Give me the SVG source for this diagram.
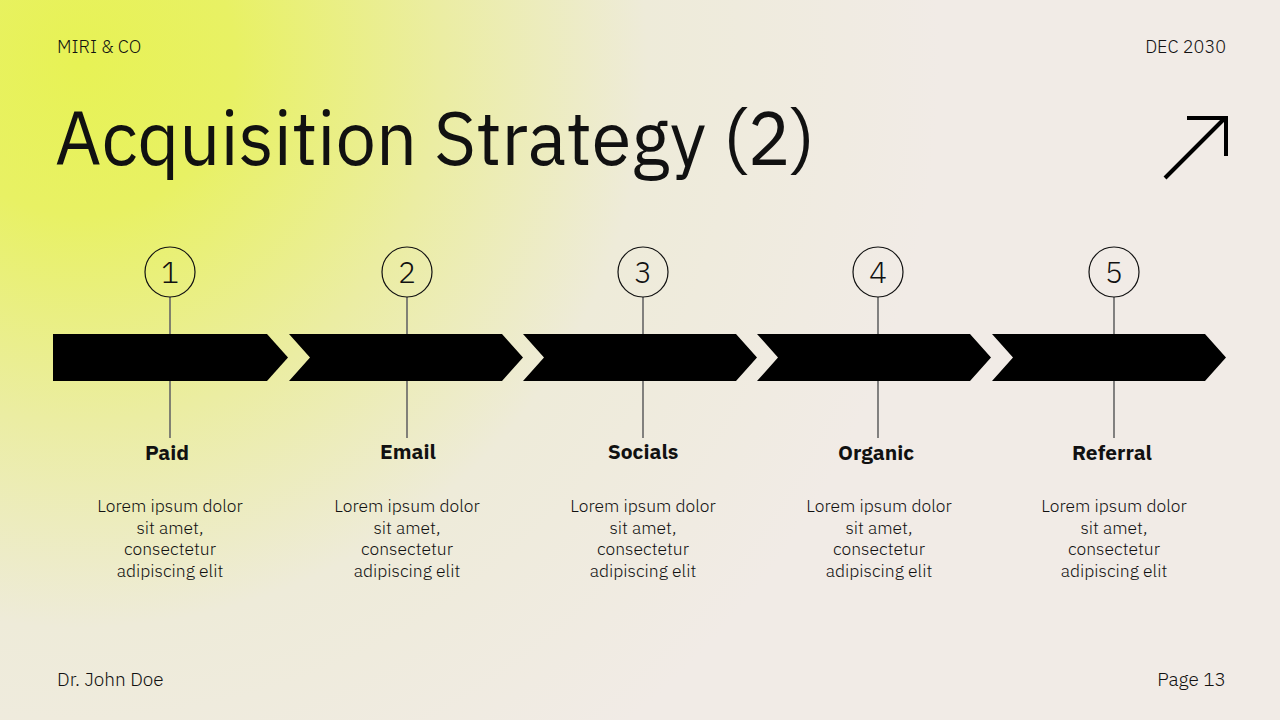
<svg xmlns="http://www.w3.org/2000/svg" width="1280" height="720" viewBox="0 0 1280 720">
<defs>
<radialGradient id="bg" cx="80" cy="60" r="860" gradientUnits="userSpaceOnUse">
<stop offset="0" stop-color="#e7f255"/>
<stop offset="0.18" stop-color="#e8f164"/>
<stop offset="0.42" stop-color="#ebeda2"/>
<stop offset="0.66" stop-color="#eeebd9"/>
<stop offset="1" stop-color="#f1ebe6"/>
</radialGradient>
<style>
.t{font-family:"IBM Plex Sans","Noto Sans",Roboto,sans-serif;fill:#111}
.hd{font-size:18px;font-weight:300}
.ft{font-size:19px;font-weight:300}
.num{font-size:30px;text-anchor:middle;font-weight:300}
.lbl{font-size:21px;font-weight:bold;text-anchor:middle}
.body{font-size:17.5px;text-anchor:middle;fill:#111;font-weight:300}
.circ{fill:none;stroke:#111;stroke-width:1.2}
.stem{stroke:#666;stroke-width:1.6}
.chev{fill:#000}
</style>
</defs>
<rect width="1280" height="720" fill="url(#bg)"/>
<text class="t hd" x="57" y="53">MIRI &amp; CO</text>
<text class="t hd" x="1226" y="53" text-anchor="end">DEC 2030</text>
<text class="t" x="55" y="165" font-size="76" textLength="760" lengthAdjust="spacingAndGlyphs">Acquisition Strategy (2)</text>
<g id="icon" fill="none" stroke="#000" stroke-width="4">
<line x1="1165" y1="178" x2="1225" y2="118"/>
<polyline points="1187,118 1226,118 1226,156"/>
</g>
<g id="connectors">
<line class="stem" x1="170" y1="297" x2="170" y2="438"/>
<line class="stem" x1="407" y1="297" x2="407" y2="438"/>
<line class="stem" x1="643" y1="297" x2="643" y2="438"/>
<line class="stem" x1="878" y1="297" x2="878" y2="438"/>
<line class="stem" x1="1114" y1="297" x2="1114" y2="438"/>
</g>
<g id="chevrons">
<polygon class="chev" points="53,334 267,334 288,357.5 267,381 53,381"/>
<polygon class="chev" points="289,334 502,334 523,357.5 502,381 289,381 310,357.5"/>
<polygon class="chev" points="523,334 736,334 757,357.5 736,381 523,381 544,357.5"/>
<polygon class="chev" points="757,334 970,334 991,357.5 970,381 757,381 778,357.5"/>
<polygon class="chev" points="992,334 1205,334 1226,357.5 1205,381 992,381 1013,357.5"/>
</g>
<g id="step1">
<circle class="circ" cx="170" cy="272" r="25"/>
<text class="t num" x="170" y="283">1</text>
<text class="t lbl" x="167" y="460">Paid</text>
<text class="t body"><tspan x="170" y="512">Lorem ipsum dolor</tspan><tspan x="170" y="533.5">sit amet,</tspan><tspan x="170" y="555">consectetur</tspan><tspan x="170" y="576.5">adipiscing elit</tspan></text>
</g>
<g id="step2">
<circle class="circ" cx="407" cy="272" r="25"/>
<text class="t num" x="407" y="283">2</text>
<text class="t lbl" x="408" y="459">Email</text>
<text class="t body"><tspan x="407" y="512">Lorem ipsum dolor</tspan><tspan x="407" y="533.5">sit amet,</tspan><tspan x="407" y="555">consectetur</tspan><tspan x="407" y="576.5">adipiscing elit</tspan></text>
</g>
<g id="step3">
<circle class="circ" cx="643" cy="272" r="25"/>
<text class="t num" x="643" y="283">3</text>
<text class="t lbl" x="643" y="459">Socials</text>
<text class="t body"><tspan x="643" y="512">Lorem ipsum dolor</tspan><tspan x="643" y="533.5">sit amet,</tspan><tspan x="643" y="555">consectetur</tspan><tspan x="643" y="576.5">adipiscing elit</tspan></text>
</g>
<g id="step4">
<circle class="circ" cx="878" cy="272" r="25"/>
<text class="t num" x="878" y="283">4</text>
<text class="t lbl" x="876" y="460">Organic</text>
<text class="t body"><tspan x="879" y="512">Lorem ipsum dolor</tspan><tspan x="879" y="533.5">sit amet,</tspan><tspan x="879" y="555">consectetur</tspan><tspan x="879" y="576.5">adipiscing elit</tspan></text>
</g>
<g id="step5">
<circle class="circ" cx="1114" cy="272" r="25"/>
<text class="t num" x="1114" y="283">5</text>
<text class="t lbl" x="1112" y="460">Referral</text>
<text class="t body"><tspan x="1114" y="512">Lorem ipsum dolor</tspan><tspan x="1114" y="533.5">sit amet,</tspan><tspan x="1114" y="555">consectetur</tspan><tspan x="1114" y="576.5">adipiscing elit</tspan></text>
</g>
<text class="t ft" x="57" y="686">Dr. John Doe</text>
<text class="t ft" x="1226" y="686" text-anchor="end">Page 13</text>
</svg>
